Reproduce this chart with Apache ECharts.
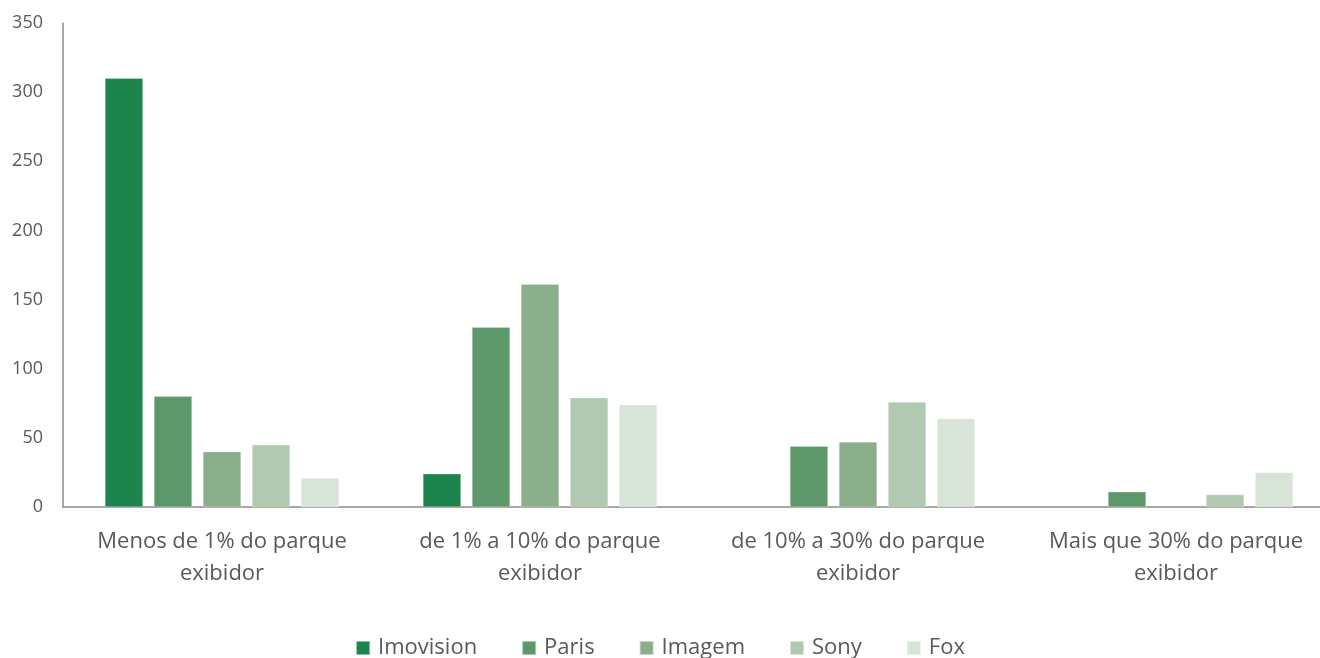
<!DOCTYPE html>
<html>
<head>
<meta charset="utf-8">
<script src="https://cdn.jsdelivr.net/npm/echarts@6/dist/echarts.min.js"></script>
<style>
  html, body { margin: 0; padding: 0; background: #fff; }
  #chart { width: 1320px; height: 658px; }
</style>
</head>
<body>
<div id="chart"></div>
<script>
const categories = [
  'Menos de 1% do parque\nexibidor',
  'de 1% a 10% do parque\nexibidor',
  'de 10% a 30% do parque\nexibidor',
  'Mais que 30% do parque\nexibidor'
];
const seriesNames = ['Imovision', 'Paris', 'Imagem', 'Sony', 'Fox'];
const imovision = [310, 24, null, null];
const paris = [80, 130, 44, 11];
const imagem = [40, 161, 47, null];
const sony = [45, 79, 76, 9];
const fox = [21, 74, 64, 25];
const colors = ['#1d844d', '#5c986a', '#8bae8b', '#b2c9b1', '#d9e4d9'];

const FONT = '"Open Sans", sans-serif';
const TEXT = '#595959';

const chart = echarts.init(document.getElementById('chart'));
const values = [imovision, paris, imagem, sony, fox];

chart.setOption({
  animation: false,
  color: colors,
  textStyle: { fontFamily: FONT, color: TEXT },
  grid: { left: 63, top: 23, width: 1272, height: 484, containLabel: false, outerBoundsMode: 'none' },
  legend: {
    top: 632,
    left: 'center',
    itemWidth: 14,
    itemHeight: 14,
    itemGap: 44,
    icon: 'rect',
    textStyle: { fontSize: 22, color: TEXT, fontFamily: FONT, padding: [0, 0, 0, 3] },
    data: seriesNames
  },
  xAxis: {
    type: 'category',
    data: categories,
    axisLine: { lineStyle: { color: '#8c8c8c', width: 1.5 } },
    axisTick: { show: false },
    axisLabel: { fontSize: 22, color: TEXT, lineHeight: 32, margin: 19, interval: 0 }
  },
  yAxis: {
    type: 'value',
    min: 0,
    max: 350,
    interval: 50,
    axisLine: { show: true, lineStyle: { color: '#8c8c8c', width: 1.5 } },
    axisTick: { show: false },
    splitLine: { show: false },
    axisLabel: { fontSize: 18, color: TEXT, margin: 20 }
  },
  series: seriesNames.map((name, i) => ({
    name: name,
    type: 'bar',
    data: values[i],
    barWidth: 38,
    barGap: '29%',
    itemStyle: { color: colors[i], borderColor: 'rgba(255,255,255,0.5)', borderWidth: 0.5 }
  }))
});
</script>
</body>
</html>
